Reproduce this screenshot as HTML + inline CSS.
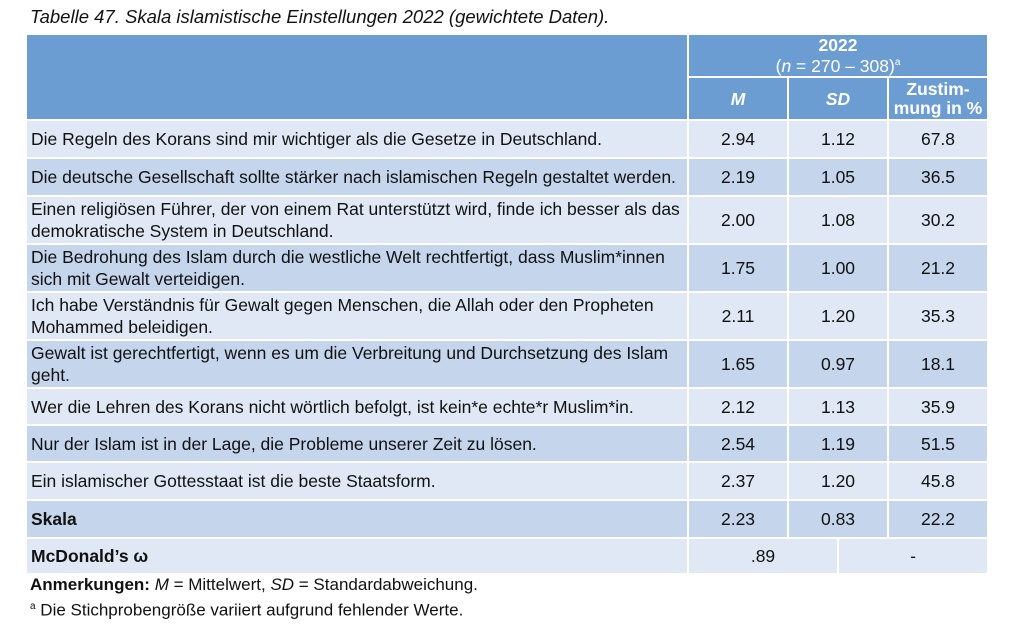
<!DOCTYPE html>
<html><head><meta charset="utf-8"><style>
body{margin:0;background:#fff;width:1024px;height:635px;overflow:hidden;font-family:"Liberation Sans",sans-serif;color:#111;}
.title{position:absolute;left:30px;top:6px;font-style:italic;font-size:18.5px;}
table{position:absolute;left:25px;top:33px;border-collapse:collapse;font-size:17.5px;line-height:22px;}
td{border:2px solid #fff;padding:0 4px;}
.h{background:#6b9dd3;color:#fff;font-weight:bold;text-align:center;}
.l{background:#dfe8f4;}
.d{background:#c4d5ec;}
.n{text-align:center;}
.notes{position:absolute;left:30px;top:574px;font-size:17px;line-height:22px;}
</style></head><body>
<div class="title">Tabelle 47. Skala islamistische Einstellungen 2022 (gewichtete Daten).</div>
<table>
<colgroup><col style="width:662px"><col style="width:100px"><col style="width:50px"><col style="width:50px"><col style="width:100px"></colgroup>
<tr style="height:43px"><td class="h" rowspan="2"></td><td class="h" colspan="4" style="line-height:18px">2022<br><span style="font-weight:normal">(<i>n</i> = 270 – 308)<sup style="font-size:10px">a</sup></span></td></tr>
<tr style="height:43px"><td class="h"><i>M</i></td><td class="h" colspan="2"><i>SD</i></td><td class="h" style="line-height:19px">Zustim-<br>mung in %</td></tr>
<tr class="l" style="height:38px"><td>Die Regeln des Korans sind mir wichtiger als die Gesetze in Deutschland.</td><td class="n">2.94</td><td class="n" colspan="2">1.12</td><td class="n">67.8</td></tr>
<tr class="d" style="height:38px"><td>Die deutsche Gesellschaft sollte stärker nach islamischen Regeln gestaltet werden.</td><td class="n">2.19</td><td class="n" colspan="2">1.05</td><td class="n">36.5</td></tr>
<tr class="l" style="height:48px"><td>Einen religiösen Führer, der von einem Rat unterstützt wird, finde ich besser als das<br>demokratische System in Deutschland.</td><td class="n">2.00</td><td class="n" colspan="2">1.08</td><td class="n">30.2</td></tr>
<tr class="d" style="height:48px"><td>Die Bedrohung des Islam durch die westliche Welt rechtfertigt, dass Muslim*innen<br>sich mit Gewalt verteidigen.</td><td class="n">1.75</td><td class="n" colspan="2">1.00</td><td class="n">21.2</td></tr>
<tr class="l" style="height:48px"><td>Ich habe Verständnis für Gewalt gegen Menschen, die Allah oder den Propheten<br>Mohammed beleidigen.</td><td class="n">2.11</td><td class="n" colspan="2">1.20</td><td class="n">35.3</td></tr>
<tr class="d" style="height:48px"><td>Gewalt ist gerechtfertigt, wenn es um die Verbreitung und Durchsetzung des Islam<br>geht.</td><td class="n">1.65</td><td class="n" colspan="2">0.97</td><td class="n">18.1</td></tr>
<tr class="l" style="height:37px"><td>Wer die Lehren des Korans nicht wörtlich befolgt, ist kein*e echte*r Muslim*in.</td><td class="n">2.12</td><td class="n" colspan="2">1.13</td><td class="n">35.9</td></tr>
<tr class="d" style="height:37px"><td>Nur der Islam ist in der Lage, die Probleme unserer Zeit zu lösen.</td><td class="n">2.54</td><td class="n" colspan="2">1.19</td><td class="n">51.5</td></tr>
<tr class="l" style="height:38px"><td>Ein islamischer Gottesstaat ist die beste Staatsform.</td><td class="n">2.37</td><td class="n" colspan="2">1.20</td><td class="n">45.8</td></tr>
<tr class="d" style="height:38px"><td><b>Skala</b></td><td class="n">2.23</td><td class="n" colspan="2">0.83</td><td class="n">22.2</td></tr>
<tr class="l" style="height:36px"><td><b>McDonald’s ω</b></td><td class="n" colspan="2">.89</td><td class="n" colspan="2">-</td></tr>
</table>
<div class="notes"><b>Anmerkungen:</b> <i>M</i> = Mittelwert, <i>SD</i> = Standardabweichung.<br><sup style="font-size:10px">a</sup> Die Stichprobengröße variiert aufgrund fehlender Werte.</div>
</body></html>
